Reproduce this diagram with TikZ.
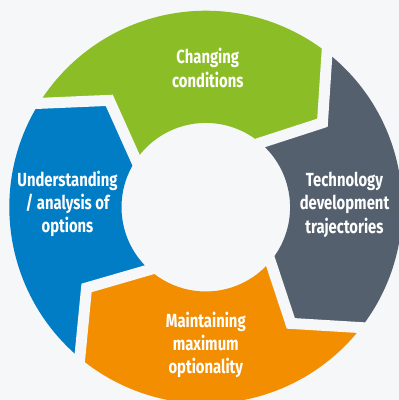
\documentclass[tikz,border=0pt]{standalone}
\usepackage{fontspec}
\newfontfamily\labelfont{Fira Sans}[FakeStretch=0.78]
\usepackage{tikz}
\usetikzlibrary{calc}

\definecolor{bgGray}{HTML}{F5F7F9}
\definecolor{segGreen}{HTML}{8BBD26}
\definecolor{segSlate}{HTML}{54606E}
\definecolor{segOrange}{HTML}{F28E00}
\definecolor{segBlue}{HTML}{007DC5}

% ring piece from boundary #1 to boundary #2 (clockwise), pointed at its end
\newcommand{\drawSegment}[3]{
    \fill[#3] (#1:\Rout) arc[start angle=#1,end angle=#2,radius=\Rout]
        -- (#2-16:\Rtip) -- (#2-2.2:\Rin)
        arc[start angle=#2-2.2,end angle=#1-2.2,radius=\Rin]
        -- (#1-16:\Rtip) -- cycle;
}

% white gap cut along a chevron boundary
\newcommand{\drawGap}[1]{
    \draw[bgGray,line width=11pt,line join=miter]
        ($(#1-16:\Rtip)!1.3!(#1:\Rout)$) -- (#1-16:\Rtip)
        -- ($(#1-16:\Rtip)!1.3!(#1-2.2:\Rin)$);
}

\begin{document}
\begin{tikzpicture}[x=1pt,y=1pt,
    segtext/.style={text=white,align=center,
        font=\labelfont\bfseries\fontsize{19}{23.3}\selectfont}]

        % --- Variables ---
        \def\Rout{196.5}
        \def\Rin{84.3}
        \def\Rtip{144}

        \useasboundingbox (-205.8,-192.8) rectangle (193.2,207.2);
        \fill[bgGray] (-205.8,-192.8) rectangle (193.2,207.2);
        \clip (-205.8,-192.8) rectangle (193.2,207.2);

        % Segments, clockwise from the left
        \drawSegment{230.1}{148.1}{segBlue}
        \drawSegment{148.1}{51.9}{segGreen}
        \drawSegment{51.9}{-37.8}{segSlate}
        \drawSegment{-37.8}{-129.9}{segOrange}

        % Gaps between segments
        \foreach \b in {148.1,51.9,-37.8,-129.9} {
            \drawGap{\b}
        }

        % Labels
        \node[segtext] (changing) at (2,139.2) {Changing\\conditions};
        \node[segtext] (technology) at (138.7,2.5) {Technology\\development\\trajectories};
        \node[segtext] (understanding) at (-138.3,3.3) {Understanding\\/ analysis of\\options};
        \node[segtext] (maintaining) at (0,-137.6) {Maintaining\\maximum\\optionality};

    \end{tikzpicture}
\end{document}
